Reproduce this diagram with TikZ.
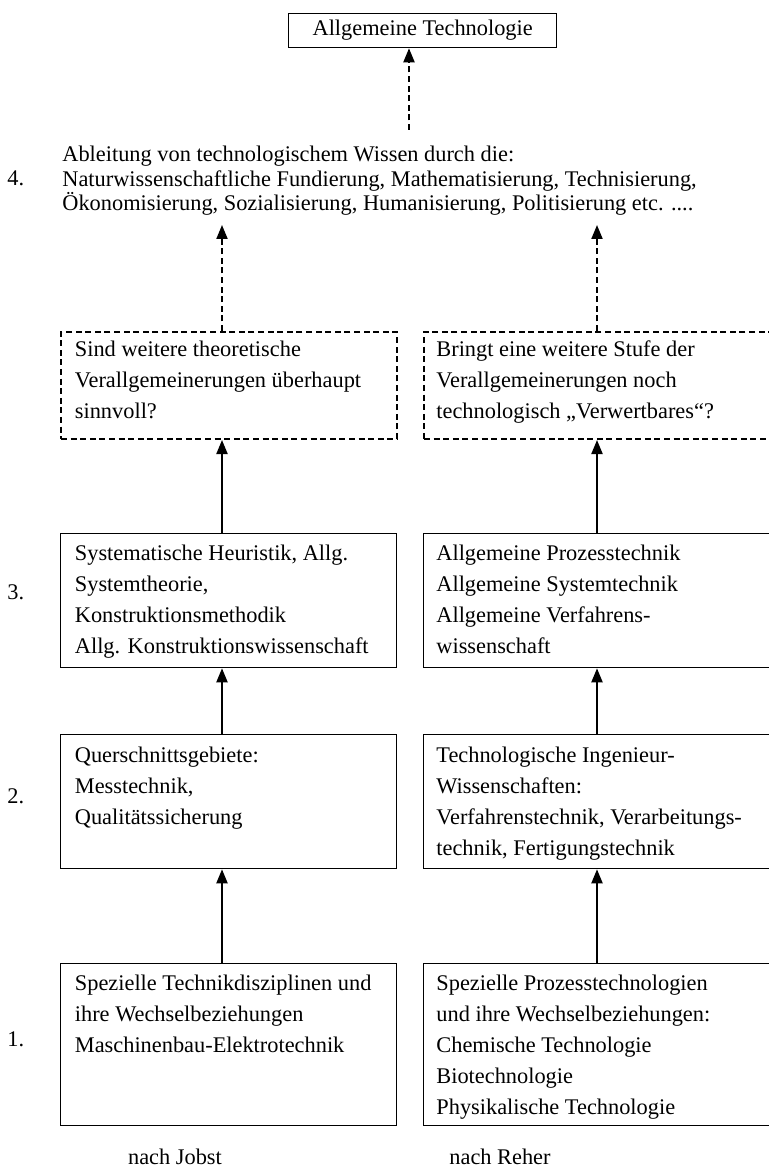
\documentclass[tikz,border=0pt]{standalone}
\usepackage{fontspec}
\setmainfont{Liberation Serif}
\usetikzlibrary{arrows.meta}
\begin{document}
\begin{tikzpicture}[x=0.5pt,y=-0.5pt,
  boxs/.style={draw, line width=0.65pt, inner sep=0pt, anchor=north west},
  dbox/.style={draw, line width=1pt, dash pattern=on 3pt off 1.8pt, inner sep=0pt, anchor=north west},
  txt/.style={anchor=base west, inner sep=0pt, font=\fontsize{11.18}{15.5}\selectfont},
  txtf/.style={anchor=base west, inner sep=0pt, font=\fontsize{11.18}{12.25}\selectfont},
  arr/.style={line width=1pt, -{Triangle[width=5.5pt,length=7pt]}},
  darr/.style={arr, dash pattern=on 3pt off 1.8pt},
]
\clip (0,0) rectangle (769,1170);
\fill[white] (0,0) rectangle (769,1170);

% top box
\node[boxs, minimum width=134pt, minimum height=17pt, font=\fontsize{11.18}{13}\selectfont] (top) at (288,13) {Allgemeine Technologie};

% level 4 text
\node[txtf] (t4) at (62,162) {\parbox[t]{360pt}{Ableitung von technologischem Wissen durch die:\\Naturwissenschaftliche Fundierung, Mathematisierung, Technisierung,\\Ökonomisierung, Sozialisierung, Humanisierung, Politisierung etc. ....}};
\node[txtf] (n4) at (7,186) {4.};

% question boxes
\node[dbox, minimum width=168pt, minimum height=53.5pt] (dq1) at (60,331) {};
\node[dbox, minimum width=176pt, minimum height=53.5pt] (dq2) at (423,331) {};
\node[txt] (tq1) at (74.5,357) {\parbox[t]{180pt}{Sind weitere theoretische\\Verallgemeinerungen überhaupt\\sinnvoll?}};
\node[txt] (tq2) at (436,357) {\parbox[t]{180pt}{Bringt eine weitere Stufe der\\Verallgemeinerungen noch\\technologisch „Verwertbares“?}};

% level 3
\node[boxs, minimum width=168pt, minimum height=67pt] (b3a) at (60,533) {};
\node[boxs, minimum width=176pt, minimum height=67pt] (b3b) at (423,533) {};
\node[txt] (t3a) at (74.5,560) {\parbox[t]{180pt}{Systematische Heuristik, Allg.\\Systemtheorie,\\Konstruktionsmethodik\\Allg. Konstruktionswissenschaft}};
\node[txt] (t3b) at (436,560) {\parbox[t]{180pt}{Allgemeine Prozesstechnik\\Allgemeine Systemtechnik\\Allgemeine Verfahrens-\\wissenschaft}};
\node[txt] (n3) at (7,599) {3.};

% level 2
\node[boxs, minimum width=168pt, minimum height=67pt] (b2a) at (60,734) {};
\node[boxs, minimum width=176pt, minimum height=67pt] (b2b) at (423,734) {};
\node[txt] (t2a) at (74.5,762) {\parbox[t]{180pt}{Querschnittsgebiete:\\Messtechnik,\\Qualitätssicherung}};
\node[txt] (t2b) at (436,762) {\parbox[t]{180pt}{Technologische Ingenieur-\\Wissenschaften:\\Verfahrenstechnik, Verarbeitungs-\\technik, Fertigungstechnik}};
\node[txt] (n2) at (7,803) {2.};

% level 1
\node[boxs, minimum width=168pt, minimum height=81pt] (b1a) at (60,963) {};
\node[boxs, minimum width=176pt, minimum height=81pt] (b1b) at (423,963) {};
\node[txt] (t1a) at (74.5,990) {\parbox[t]{180pt}{Spezielle Technikdisziplinen und\\ihre Wechselbeziehungen\\Maschinenbau-Elektrotechnik}};
\node[txt] (t1b) at (436,990) {\parbox[t]{180pt}{Spezielle Prozesstechnologien\\und ihre Wechselbeziehungen:\\Chemische Technologie\\Biotechnologie\\Physikalische Technologie}};
\node[txt] (n1) at (7,1046) {1.};

% captions
\node[txt, anchor=base] (ja) at (175,1164) {nach Jobst};
\node[txt, anchor=base] (re) at (500,1164) {nach Reher};

% connectors
\coordinate (c0) at (409,130);
\coordinate (c1) at (222,225);
\coordinate (c2) at (597,225);
\draw[darr] (c0) -- (top.south -| c0);
\draw[darr] (c1 |- dq1.north) -- (c1);
\draw[darr] (c2 |- dq2.north) -- (c2);
\draw[arr] (c1 |- b3a.north) -- (c1 |- dq1.south);
\draw[arr] (c2 |- b3b.north) -- (c2 |- dq2.south);
\draw[arr] (c1 |- b2a.north) -- (c1 |- b3a.south);
\draw[arr] (c2 |- b2b.north) -- (c2 |- b3b.south);
\draw[arr] (c1 |- b1a.north) -- (c1 |- b2a.south);
\draw[arr] (c2 |- b1b.north) -- (c2 |- b2b.south);
\end{tikzpicture}
\end{document}
